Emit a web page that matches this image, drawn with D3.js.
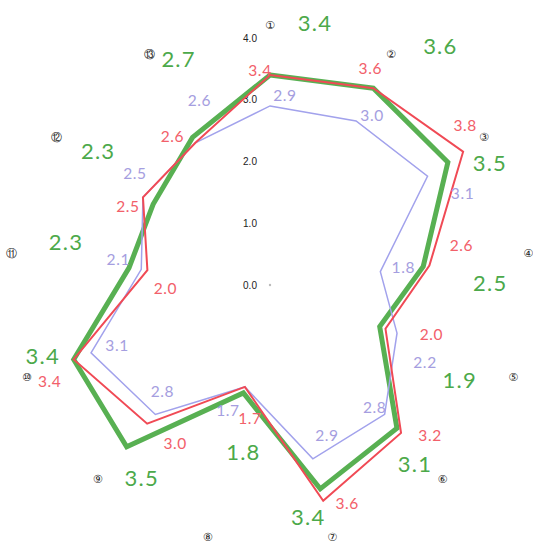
<!DOCTYPE html>
<html>
<head>
<meta charset="utf-8">
<script src="https://cdn.jsdelivr.net/npm/d3@7/dist/d3.min.js"></script>
<style>
  body { margin: 0; background: #fff; }
  svg { display: block; }
</style>
</head>
<body>
<svg id="radar" width="533" height="545"></svg>
<script>
// axis names (circled numbers) and the three series
var axes = ["①", "②", "③", "④", "⑤", "⑥", "⑦", "⑧", "⑨", "⑩", "⑪", "⑫", "⑬"]
var greenVals = [3.4, 3.6, 3.5, 2.5, 1.9, 3.1, 3.4, 1.8, 3.5, 3.4, 2.3, 2.3, 2.7]
var redVals   = [3.4, 3.6, 3.8, 2.6, 2.0, 3.2, 3.6, 1.7, 3.0, 3.4, 2.0, 2.5, 2.6]
var blueVals  = [2.9, 3.0, 3.1, 1.8, 2.2, 2.8, 2.9, 1.7, 2.8, 3.1, 2.1, 2.5, 2.6]
var scaleTicks = [0, 1, 2, 3, 4]

// label nudges (px from the vertex), layout only
var greenNudge = [[45,-53],[67,-43],[42,0],[67,16],[80,53],[18,35],[-12,28],[0,59],[15,31],[-31,-4],[-63,-26],[-55,-54],[-14,-79]]
var redNudge   = [[-10,-5],[-3,-20],[2,-27],[32,-21],[46,5],[29,2],[24,2],[5,31],[28,19],[-24,22],[18,18],[-15,9],[-23,-7]]
var blueNudge  = [[15,-11],[16,-6],[35,17],[23,-5],[28,29],[-10,-7],[14,-24],[-17,23],[7,-23],[26,-8],[-23,-10],[-8,-24],[4,-43]]

var cx = 270, cy = 285
var svg = d3.select("#radar")
var g = svg.append("g").attr("transform", "translate(" + cx + "," + cy + ")")

var rScale = d3.scaleLinear().domain([0, 4]).range([0, 247])
var angle = d3.scaleLinear().domain([0, axes.length]).range([0, 2 * Math.PI])

function px(i, v) { return rScale(v) * Math.sin(angle(i)) }
function py(i, v) { return -rScale(v) * Math.cos(angle(i)) }

// scale labels up the vertical axis
g.selectAll(".tick")
    .data(scaleTicks)
    .enter().append("text")
    .attr("class", "tick")
    .attr("x", -20)
    .attr("y", d => -rScale(d))
    .attr("text-anchor", "middle")
    .attr("dominant-baseline", "central")
    .attr("font-family", "Liberation Sans, Arial, sans-serif")
    .attr("font-size", 10)
    .attr("fill", "#222")
    .text(d => d.toFixed(1))

g.append("circle").attr("r", 1.2).attr("fill", "#bbb")

// axis names
g.selectAll(".axname")
    .data(axes)
    .enter().append("text")
    .attr("class", "axname")
    .attr("x", (d, i) => 260 * Math.sin(angle(i)))
    .attr("y", (d, i) => -260 * Math.cos(angle(i)))
    .attr("text-anchor", "middle")
    .attr("dominant-baseline", "central")
    .attr("font-family", "DejaVu Sans, sans-serif")
    .attr("font-size", 11)
    .attr("fill", "#222")
    .text(d => d)

var line = d3.lineRadial()
    .angle((d, i) => angle(i))
    .radius(d => rScale(d))
    .curve(d3.curveLinearClosed)

var series = [
    {vals: greenVals, nudge: greenNudge, stroke: "#58b052", width: 5, label: "#4ca94a", size: 22, spacing: 1.2},
    {vals: blueVals, nudge: blueNudge, stroke: "#a2a2ec", width: 1.5, label: "#a59ee0", size: 15.5, spacing: 0.6},
    {vals: redVals, nudge: redNudge, stroke: "#f04a55", width: 2, label: "#f2606a", size: 15.5, spacing: 0.6}
]

series.forEach(s => {
    g.append("path")
        .datum(s.vals)
        .attr("d", line)
        .attr("fill", "none")
        .attr("stroke", s.stroke)
        .attr("stroke-width", s.width)
        .attr("stroke-linejoin", "miter")
})

// value labels, drawn after the lines
series.forEach(s => {
    g.selectAll(null)
        .data(s.vals)
        .enter().append("text")
        .attr("x", (d, i) => px(i, d) + s.nudge[i][0])
        .attr("y", (d, i) => py(i, d) + s.nudge[i][1])
        .attr("text-anchor", "middle")
        .attr("dominant-baseline", "central")
        .attr("font-family", "Lato, Open Sans, sans-serif")
        .attr("font-size", s.size)
        .attr("letter-spacing", s.spacing)
        .attr("fill", s.label)
        .text(d => d.toFixed(1))
})
</script>
</body>
</html>
